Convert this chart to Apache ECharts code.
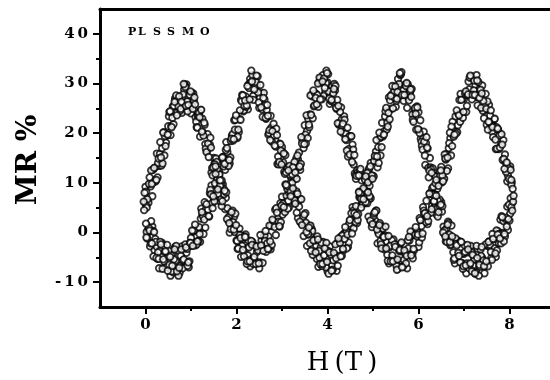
<!DOCTYPE html>
<html><head><meta charset="utf-8">
<script src="https://cdn.jsdelivr.net/npm/echarts@6/dist/echarts.min.js"></script>
<style>html,body{margin:0;padding:0;background:#fff}#c{width:550px;height:380px}</style>
</head><body><div id="c"></div>
<script>
// Field H (T): four interleaved sampling grids
const h1=[0,0.05,0.1,0.15,0.2,0.25,0.3,0.35,0.4,0.45,
0.5,0.55,0.6,0.65,0.7,0.75,0.8,0.85,0.9,0.95,
1,1.05,1.1,1.15,1.2,1.25,1.3,1.35,1.4,1.45,
1.5,1.55,1.6,1.65,1.7,1.75,1.8,1.85,1.9,1.95,
2,2.05,2.1,2.15,2.2,2.25,2.3,2.35,2.4,2.45,
2.5,2.55,2.6,2.65,2.7,2.75,2.8,2.85,2.9,2.95,
3,3.05,3.1,3.15,3.2,3.25,3.3,3.35,3.4,3.45,
3.5,3.55,3.6,3.65,3.7,3.75,3.8,3.85,3.9,3.95,
4,4.05,4.1,4.15,4.2,4.25,4.3,4.35,4.4,4.45,
4.5,4.55,4.6,4.65,4.7,4.75,4.8,4.85,4.9,4.95,
5,5.05,5.1,5.15,5.2,5.25,5.3,5.35,5.4,5.45,
5.5,5.55,5.6,5.65,5.7,5.75,5.8,5.85,5.9,5.95,
6,6.05,6.1,6.15,6.2,6.25,6.3,6.35,6.4,6.45,
6.5,6.55,6.6,6.65,6.7,6.75,6.8,6.85,6.9,6.95,
7,7.05,7.1,7.15,7.2,7.25,7.3,7.35,7.4,7.45,
7.5,7.55,7.6,7.65,7.7,7.75,7.8,7.85,7.9,7.95,
8,8.05];
const h2=[0.025,0.075,0.125,0.175,0.225,0.275,0.325,0.375,0.425,0.475,
0.525,0.575,0.625,0.675,0.725,0.775,0.825,0.875,0.925,0.975,
1.025,1.075,1.125,1.175,1.225,1.275,1.325,1.375,1.425,1.475,
1.525,1.575,1.625,1.675,1.725,1.775,1.825,1.875,1.925,1.975,
2.025,2.075,2.125,2.175,2.225,2.275,2.325,2.375,2.425,2.475,
2.525,2.575,2.625,2.675,2.725,2.775,2.825,2.875,2.925,2.975,
3.025,3.075,3.125,3.175,3.225,3.275,3.325,3.375,3.425,3.475,
3.525,3.575,3.625,3.675,3.725,3.775,3.825,3.875,3.925,3.975,
4.025,4.075,4.125,4.175,4.225,4.275,4.325,4.375,4.425,4.475,
4.525,4.575,4.625,4.675,4.725,4.775,4.825,4.875,4.925,4.975,
5.025,5.075,5.125,5.175,5.225,5.275,5.325,5.375,5.425,5.475,
5.525,5.575,5.625,5.675,5.725,5.775,5.825,5.875,5.925,5.975,
6.025,6.075,6.125,6.175,6.225,6.275,6.325,6.375,6.425,6.475,
6.525,6.575,6.625,6.675,6.725,6.775,6.825,6.875,6.925,6.975,
7.025,7.075,7.125,7.175,7.225,7.275,7.325,7.375,7.425,7.475,
7.525,7.575,7.625,7.675,7.725,7.775,7.825,7.875,7.925,7.975,
8.025];
const h3=[0.015,0.065,0.115,0.165,0.215,0.265,0.315,0.365,0.415,0.465,
0.515,0.565,0.615,0.665,0.715,0.765,0.815,0.865,0.915,0.965,
1.015,1.065,1.115,1.165,1.215,1.265,1.315,1.365,1.415,1.465,
1.515,1.565,1.615,1.665,1.715,1.765,1.815,1.865,1.915,1.965,
2.015,2.065,2.115,2.165,2.215,2.265,2.315,2.365,2.415,2.465,
2.515,2.565,2.615,2.665,2.715,2.765,2.815,2.865,2.915,2.965,
3.015,3.065,3.115,3.165,3.215,3.265,3.315,3.365,3.415,3.465,
3.515,3.565,3.615,3.665,3.715,3.765,3.815,3.865,3.915,3.965,
4.015,4.065,4.115,4.165,4.215,4.265,4.315,4.365,4.415,4.465,
4.515,4.565,4.615,4.665,4.715,4.765,4.815,4.865,4.915,4.965,
5.015,5.065,5.115,5.165,5.215,5.265,5.315,5.365,5.415,5.465,
5.515,5.565,5.615,5.665,5.715,5.765,5.815,5.865,5.915,5.965,
6.015,6.065,6.115,6.165,6.215,6.265,6.315,6.365,6.415,6.465,
6.515,6.565,6.615,6.665,6.715,6.765,6.815,6.865,6.915,6.965,
7.015,7.065,7.115,7.165,7.215,7.265,7.315,7.365,7.415,7.465,
7.515,7.565,7.615,7.665,7.715,7.765,7.815,7.865,7.915,7.965,
8.015];
const h4=[0.04,0.09,0.14,0.19,0.24,0.29,0.34,0.39,0.44,0.49,
0.54,0.59,0.64,0.69,0.74,0.79,0.84,0.89,0.94,0.99,
1.04,1.09,1.14,1.19,1.24,1.29,1.34,1.39,1.44,1.49,
1.54,1.59,1.64,1.69,1.74,1.79,1.84,1.89,1.94,1.99,
2.04,2.09,2.14,2.19,2.24,2.29,2.34,2.39,2.44,2.49,
2.54,2.59,2.64,2.69,2.74,2.79,2.84,2.89,2.94,2.99,
3.04,3.09,3.14,3.19,3.24,3.29,3.34,3.39,3.44,3.49,
3.54,3.59,3.64,3.69,3.74,3.79,3.84,3.89,3.94,3.99,
4.04,4.09,4.14,4.19,4.24,4.29,4.34,4.39,4.44,4.49,
4.54,4.59,4.64,4.69,4.74,4.79,4.84,4.89,4.94,4.99,
5.04,5.09,5.14,5.19,5.24,5.29,5.34,5.39,5.44,5.49,
5.54,5.59,5.64,5.69,5.74,5.79,5.84,5.89,5.94,5.99,
6.04,6.09,6.14,6.19,6.24,6.29,6.34,6.39,6.44,6.49,
6.54,6.59,6.64,6.69,6.74,6.79,6.84,6.89,6.94,6.99,
7.04,7.09,7.14,7.19,7.24,7.29,7.34,7.39,7.44,7.49,
7.54,7.59,7.64,7.69,7.74,7.79,7.84,7.89,7.94,7.99,
8.04];
// MR % branch A (peaks near 0.9, 4.0, 7.2)
const mrA1=[9.2,6.4,9.7,7.3,13.0,15.9,13.4,13.5,20.2,18.1,
21.4,19.6,25.4,27.0,24.2,27.2,24.1,28.8,29.8,26.4,
24.0,28.0,23.2,23.4,19.3,22.9,21.7,16.4,17.2,12.1,
15.0,14.9,9.4,6.2,9.7,4.7,4.9,0.0,3.9,3.2,
-1.6,-0.3,-4.9,-1.3,-0.4,-4.6,-6.8,-1.9,-5.6,-3.9,
-7.2,-1.6,-0.8,-3.9,-0.8,-3.4,2.0,4.6,1.9,1.2,
7.2,4.7,7.4,5.0,11.4,13.2,10.9,14.7,12.6,18.5,
21.6,20.4,21.2,27.7,25.4,27.9,25.3,30.9,31.7,28.2,
30.2,25.9,29.5,29.9,24.9,21.7,25.2,19.9,19.9,15.3,
19.4,17.7,11.9,12.5,7.1,10.5,11.1,6.2,3.2,6.9,
1.9,2.4,-2.2,1.9,1.2,-3.4,-1.8,-6.2,-2.5,-1.4,
-5.6,-7.3,-2.3,-5.9,-4.1,-7.2,-1.6,-0.6,-3.6,-0.3,
-2.9,2.5,5.1,2.4,1.7,7.9,5.4,7.9,5.3,11.7,
13.2,10.9,14.7,12.9,19.0,22.3,20.4,20.2,26.7,24.1,
26.9,24.3,30.4,31.2,27.9,29.7,25.6,29.0,29.6,24.6,
21.7,25.7,20.9,21.4,16.8,20.7,19.7,14.6,15.7,10.3,
13.0,10.1];
const mrA2=[5.0,9.8,12.5,10.1,10.3,14.0,18.2,13.9,19.4,19.8,
24.3,21.2,25.5,27.6,25.4,24.9,27.8,29.3,24.4,27.7,
25.5,27.2,21.2,24.1,24.7,19.5,16.9,17.9,19.1,11.5,
13.7,10.6,11.7,5.3,7.7,8.1,3.1,0.7,2.1,3.8,
-3.3,-0.5,-2.7,-0.8,-6.3,-3.0,-1.7,-5.4,-6.3,-3.6,
-0.5,-6.1,-1.7,-2.2,1.4,-2.5,2.3,4.9,2.2,2.1,
5.8,9.7,4.8,9.9,10.0,14.2,10.8,16.1,19.2,17.0,
17.9,22.9,27.6,23.0,28.0,27.7,31.2,26.8,31.0,32.6,
28.4,26.5,28.0,29.5,22.0,24.3,21.5,22.7,16.5,19.3,
19.4,13.7,10.8,11.5,12.8,5.7,8.4,5.9,7.3,1.1,
3.8,4.4,-0.3,-2.4,-0.8,1.2,-5.7,-2.7,-4.6,-2.4,
-7.5,-3.7,-2.0,-5.5,-6.2,-3.2,0.2,-5.2,-0.5,-0.8,
2.9,-1.0,3.8,6.4,3.8,4.0,7.6,11.3,6.4,11.4,
11.5,15.7,12.4,18.0,21.3,19.3,19.9,23.9,27.9,23.1,
28.0,27.7,31.2,26.8,30.6,31.7,27.2,25.1,26.5,27.9,
20.7,23.5,21.2,22.9,16.9,19.5,19.8,14.8,12.2,13.0,
12.6];
const mrA3=[8.2,6.0,9.3,12.6,10.6,11.1,15.8,17.0,15.5,19.5,
23.4,21.4,21.8,26.6,27.0,24.5,27.3,29.7,26.4,25.3,
28.1,26.5,22.3,23.6,24.7,20.1,17.8,19.8,17.7,13.0,
13.8,14.2,9.1,6.8,8.8,7.0,2.5,3.5,4.4,0.1,
-1.7,0.8,-0.8,-4.8,-3.2,-1.6,-5.4,-6.3,-2.7,-3.1,
-6.0,-3.2,-0.6,-3.2,-3.2,1.3,1.7,-0.5,2.8,5.9,
3.6,4.1,8.8,9.4,7.5,11.3,14.9,13.1,13.8,18.8,
19.7,19.0,23.8,27.4,25.6,25.8,30.3,30.2,27.5,30.1,
31.9,27.9,26.3,28.6,26.7,22.0,22.8,23.4,18.6,16.8,
19.3,16.7,11.5,12.1,12.4,8.1,6.3,8.6,6.7,2.2,
3.3,4.4,0.1,-1.7,0.8,-0.6,-4.5,-3.0,-1.6,-5.4,
-6.7,-3.2,-3.8,-6.8,-4.2,-1.6,-4.4,-4.5,-0.2,0.2,
-2.0,1.3,4.4,2.1,2.3,7.0,7.7,5.5,8.8,12.2,
10.1,10.8,15.8,17.0,15.5,19.5,23.4,21.6,22.3,27.0,
27.7,25.5,28.8,31.4,28.6,27.3,30.3,28.7,24.5,25.5,
26.4,22.1,20.3,22.8,21.2,16.8,17.8,18.6,14.1,11.5,
13.3];
const mrA4=[6.7,11.1,9.8,13.0,10.6,14.9,15.1,20.1,17.4,19.7,
24.4,23.1,26.3,23.6,27.4,26.3,29.9,25.5,25.7,28.4,
24.9,25.8,21.1,23.2,20.3,22.1,16.2,15.2,17.1,13.1,
13.3,7.8,9.4,6.3,8.4,2.7,1.9,4.1,0.6,1.5,
-3.2,-1.1,-3.5,-0.9,-5.8,-5.8,-2.5,-4.9,-2.8,-6.2,
-2.6,-3.7,0.3,-3.3,-1.8,2.6,1.1,4.0,1.3,5.4,
5.1,9.6,6.4,8.2,13.1,12.1,15.5,13.3,17.9,17.8,
23.6,21.7,23.7,28.6,27.1,30.0,26.8,30.4,29.1,32.1,
27.0,26.7,28.9,25.1,25.5,20.3,21.9,18.8,21.1,15.7,
14.2,15.6,11.4,11.5,6.8,8.9,6.1,8.1,2.4,1.7,
4.1,0.6,1.5,-3.2,-0.9,-3.2,-0.7,-5.8,-5.8,-2.9,
-5.4,-3.5,-7.0,-3.6,-4.7,-0.9,-4.6,-3.3,1.1,-0.4,
2.5,-0.2,3.9,3.3,7.8,4.7,6.2,10.6,9.4,12.5,
10.3,14.9,15.1,20.1,17.4,19.7,24.6,23.6,26.7,24.3,
28.4,27.8,31.6,27.7,27.7,30.6,27.1,28.0,23.0,24.9,
22.3,24.6,19.2,18.7,20.9,17.1,17.7,12.8,14.1,10.8,
9.6];
// MR % branch B (peaks near 2.35, 5.65)
const mrB1=[6.1,0.4,-2.8,1.2,-3.6,-2.9,-7.2,-2.6,-2.8,-6.9,
-4.8,-8.7,-4.5,-2.9,-6.6,-8.1,-2.8,-6.1,-4.1,-7.0,
-1.1,0.2,-2.6,0.7,-1.9,3.5,6.1,3.6,3.2,9.5,
6.9,9.6,7.3,13.7,15.2,12.6,16.2,13.9,19.5,22.6,
20.4,20.2,26.7,24.4,27.4,24.8,30.9,31.7,27.9,29.7,
25.1,28.0,28.1,22.9,19.7,23.5,18.4,18.6,13.8,17.9,
17.2,12.2,13.2,8.1,11.0,11.1,5.9,2.9,6.7,1.7,
1.9,-2.7,1.4,0.7,-4.1,-2.6,-6.9,-3.0,-1.9,-5.9,
-7.8,-2.8,-6.6,-4.6,-7.7,-1.9,-0.8,-3.6,-0.3,-2.9,
2.5,5.1,2.4,1.9,8.2,5.7,8.4,6.0,12.4,14.0,
11.4,15.2,13.1,19.0,22.1,20.4,20.7,27.2,24.9,27.6,
25.3,30.9,31.7,27.9,29.7,25.1,28.5,28.9,23.9,20.7,
24.2,18.9,18.9,13.6,16.9,15.0,8.9,9.2,3.6,6.3,
6.1,1.2,-1.8,2.2,-2.6,-1.9,-6.2,-1.6,-1.8,-6.1,
-4.3,-8.2,-4.0,-2.7,-6.6,-8.3,-3.3,-6.9,-5.1,-8.2,
-2.6,-1.8,-5.1,-2.1,-4.9,0.2,2.6,-0.1,-0.8,5.2,
2.4,5.9];
const mrB2=[0.1,0.9,2.3,-4.8,-1.9,-4.0,-1.9,-7.3,-3.9,-2.5,
-6.5,-7.8,-5.4,-2.7,-8.7,-4.7,-5.6,-2.4,-6.7,-2.1,
0.4,-2.3,-2.4,1.1,4.8,-0.3,4.6,4.6,8.6,4.9,
9.9,12.8,10.4,10.5,14.2,18.2,13.4,18.4,18.5,22.7,
19.3,24.6,27.7,25.5,25.6,29.1,32.6,26.7,30.3,28.2,
29.7,23.3,25.6,25.7,20.6,18.3,19.5,20.9,13.7,16.5,
14.1,15.6,9.3,11.6,11.7,6.5,4.0,5.2,6.7,-0.7,
2.0,-0.3,1.4,-4.5,-1.6,-0.8,-5.1,-6.7,-4.6,-2.1,
-8.3,-4.5,-5.6,-2.4,-6.7,-2.1,-0.6,-1.3,-3.2,1.8,
3.9,0.8,5.3,3.7,7.8,5.9,10.6,12.0,9.4,11.5,
14.4,18.6,14.0,19.3,19.7,24.4,21.3,26.6,29.5,27.1,
26.9,29.9,32.3,26.5,29.5,27.2,28.8,22.7,25.1,25.2,
20.0,17.4,18.3,19.2,11.1,12.7,9.2,9.9,3.2,5.2,
5.3,0.4,-1.9,-0.4,1.4,-5.5,-2.3,-4.1,-1.9,-7.3,
-3.9,-2.5,-6.5,-7.8,-5.4,-2.7,-8.7,-4.7,-5.6,-2.4,
-6.8,-2.5,-0.3,-3.2,-3.6,-0.3,3.3,-1.8,3.0,2.7,
6.9];
const mrB3=[5.4,0.1,-2.2,0.3,-1.3,-5.3,-3.7,-2.1,-5.9,-7.0,
-3.7,-4.6,-8.0,-5.7,-3.6,-6.7,-7.2,-3.2,-3.3,-5.8,
-2.7,0.4,-1.9,-1.7,2.8,3.2,1.0,4.5,7.9,5.9,
6.3,11.0,11.7,9.8,13.3,16.6,14.6,15.1,19.8,20.7,
19.0,22.8,26.4,24.6,25.3,29.8,30.2,27.5,29.8,31.4,
27.1,24.8,26.8,24.7,20.0,21.1,21.9,17.3,15.3,17.8,
16.2,11.8,12.8,13.4,8.6,6.3,8.3,6.4,2.0,3.1,
3.9,-0.4,-2.2,0.3,-1.3,-5.3,-3.7,-2.1,-5.9,-7.0,
-3.7,-4.3,-7.5,-4.7,-2.1,-4.7,-4.7,-0.2,0.2,-2.0,
1.3,4.4,2.1,2.5,7.3,8.0,6.0,9.5,12.9,10.9,
11.3,16.3,17.2,15.5,19.3,23.4,22.1,22.8,27.8,28.4,
26.5,29.3,31.9,28.6,27.3,29.8,28.2,23.8,24.8,25.4,
20.6,18.3,20.3,18.0,13.0,13.1,12.9,7.6,4.8,6.6,
4.2,-0.2,0.8,1.9,-2.4,-4.0,-1.2,-2.3,-6.0,-4.2,
-2.6,-6.2,-7.2,-4.0,-4.8,-8.0,-5.7,-3.4,-6.4,-6.7,
-2.7,-2.8,-5.5,-2.5,0.4,-2.2,-2.2,2.3,2.7,0.5,
3.8];
const mrB4=[-1.2,0.4,-2.2,0.1,-5.1,-5.3,-2.4,-5.4,-3.8,-7.7,
-4.9,-6.7,-3.4,-7.8,-7.1,-3.4,-5.4,-3.0,-6.0,-2.1,
-2.7,1.6,-1.8,-0.3,4.1,2.6,5.7,3.3,7.7,7.3,
11.8,8.7,10.5,15.1,13.8,17.0,14.6,18.9,18.8,23.6,
20.7,22.7,27.6,26.6,29.5,26.8,30.4,28.8,31.6,26.2,
25.2,27.1,23.1,23.5,18.6,20.4,17.5,19.6,14.2,13.7,
15.9,12.1,12.5,7.3,8.9,5.8,7.8,2.2,1.5,3.6,
0.1,1.0,-3.7,-1.6,-4.0,-1.4,-6.3,-6.3,-3.2,-5.9,
-4.0,-7.7,-4.1,-5.2,-1.2,-4.8,-3.3,1.1,-0.4,2.5,
-0.2,3.9,3.5,8.1,5.0,6.7,11.3,10.1,13.3,10.8,
15.4,15.3,20.1,17.2,19.7,25.1,24.1,27.5,25.0,29.4,
28.3,32.1,27.7,27.7,30.1,26.6,27.3,22.3,23.9,20.8,
22.6,16.7,15.5,17.1,12.4,12.0,6.3,7.4,4.1,5.6,
0.0,-0.8,1.6,-1.9,-0.8,-5.2,-2.6,-4.7,-1.9,-6.8,
-6.6,-3.4,-6.2,-4.5,-8.2,-5.1,-6.5,-2.9,-6.8,-5.8,
-1.9,-3.9,-1.3,-4.2,-0.4,-1.2,3.1,-0.3,1.2,5.6,
5.1];
// points at the two ends of the sweep
const hEdge=[-0.03,-0.02,0.01,-0.04,0.02,8.07,8.08,8.06,8.04,8.09];
const mrEdge=[4.5,8.0,1.8,6.2,-1.0,8.8,6.2,4.4,10.6,7.4];

const xMajor=[0,2,4,6,8], xMinor=[1,3,5,7];
const yMajor=[-10,0,10,20,30,40], yMinor=[-5,5,15,25,35];

function pairs(xs, ys){ return ys.map((y,i)=>[xs[i], y]); }
const FONT='"DejaVu Serif", "Liberation Serif", serif';
const spaced = v => String(v).split('').join('\u2009');

const chart = echarts.init(document.getElementById('c'), null, {renderer:'canvas'});
const sym = {type:'scatter', symbol:'circle', symbolSize:6.5, xAxisIndex:0, yAxisIndex:0,
  itemStyle:{color:'#fff', borderColor:'#000', borderWidth:1.8}, silent:true, animation:false, large:false};
const labelStyle = {color:'#000', fontFamily:FONT, fontWeight:'bold', fontSize:15};
const noLine = {show:false, onZero:false};
chart.setOption({
  backgroundColor:'#fff',
  animation:false,
  grid:{left:100, top:9, width:455, height:298, outerBoundsMode:'none', containLabel:false, show:false},
  xAxis:[
    {type:'value', min:-1, max:9, position:'bottom',
     axisLine:{show:true, onZero:false, lineStyle:{color:'#000', width:3}},
     axisTick:{show:true, customValues:xMajor, length:7, lineStyle:{color:'#000', width:2}},
     axisLabel:Object.assign({customValues:xMajor, margin:11, formatter:spaced}, labelStyle),
     splitLine:{show:false}},
    {type:'value', min:-1, max:9, position:'bottom', offset:0,
     axisLine:noLine,
     axisTick:{show:true, customValues:xMinor, length:4, lineStyle:{color:'#000', width:2}},
     axisLabel:{show:false}, splitLine:{show:false}},
    {type:'value', min:-1, max:9, position:'top',
     axisLine:{show:true, onZero:false, lineStyle:{color:'#000', width:3}},
     axisTick:{show:false}, axisLabel:{show:false}, splitLine:{show:false}}
  ],
  yAxis:[
    {type:'value', min:-15, max:45, position:'left',
     axisLine:{show:true, onZero:false, lineStyle:{color:'#000', width:3}},
     axisTick:{show:true, customValues:yMajor, length:7, lineStyle:{color:'#000', width:2}},
     axisLabel:Object.assign({customValues:yMajor, margin:12, formatter:spaced}, labelStyle),
     splitLine:{show:false}},
    {type:'value', min:-15, max:45, position:'left', offset:0,
     axisLine:noLine,
     axisTick:{show:true, customValues:yMinor, length:4, lineStyle:{color:'#000', width:2}},
     axisLabel:{show:false}, splitLine:{show:false}}
  ],
  graphic:[
    {type:'text', x:29, y:160, rotation:Math.PI/2,
     style:{text:'MR %', fill:'#000', font:'bold 28px '+FONT, align:'center', verticalAlign:'middle'}},
    {type:'text', x:342, y:363,
     style:{text:'H\u2009(T\u2009)', fill:'#000', font:'26px '+FONT, align:'center', verticalAlign:'middle'}},
    {type:'text', x:128, y:32, style:{text:'P', fill:'#000', font:'bold 11px '+FONT, verticalAlign:'middle'}},
    {type:'text', x:138, y:32, style:{text:'L', fill:'#000', font:'bold 11px '+FONT, verticalAlign:'middle'}},
    {type:'text', x:153, y:32, style:{text:'S', fill:'#000', font:'bold 11px '+FONT, verticalAlign:'middle'}},
    {type:'text', x:167, y:32, style:{text:'S', fill:'#000', font:'bold 11px '+FONT, verticalAlign:'middle'}},
    {type:'text', x:182, y:32, style:{text:'M', fill:'#000', font:'bold 11px '+FONT, verticalAlign:'middle'}},
    {type:'text', x:200, y:32, style:{text:'O', fill:'#000', font:'bold 11px '+FONT, verticalAlign:'middle'}}
  ],
  series:[
    Object.assign({name:'A1', data:pairs(h1, mrA1)}, sym),
    Object.assign({name:'B1', data:pairs(h1, mrB1)}, sym),
    Object.assign({name:'A3', data:pairs(h3, mrA3)}, sym),
    Object.assign({name:'B3', data:pairs(h3, mrB3)}, sym),
    Object.assign({name:'A2', data:pairs(h2, mrA2)}, sym),
    Object.assign({name:'B2', data:pairs(h2, mrB2)}, sym),
    Object.assign({name:'A4', data:pairs(h4, mrA4)}, sym),
    Object.assign({name:'B4', data:pairs(h4, mrB4)}, sym),
    Object.assign({name:'edge', data:pairs(hEdge, mrEdge)}, sym)
  ]
});
</script></body></html>
